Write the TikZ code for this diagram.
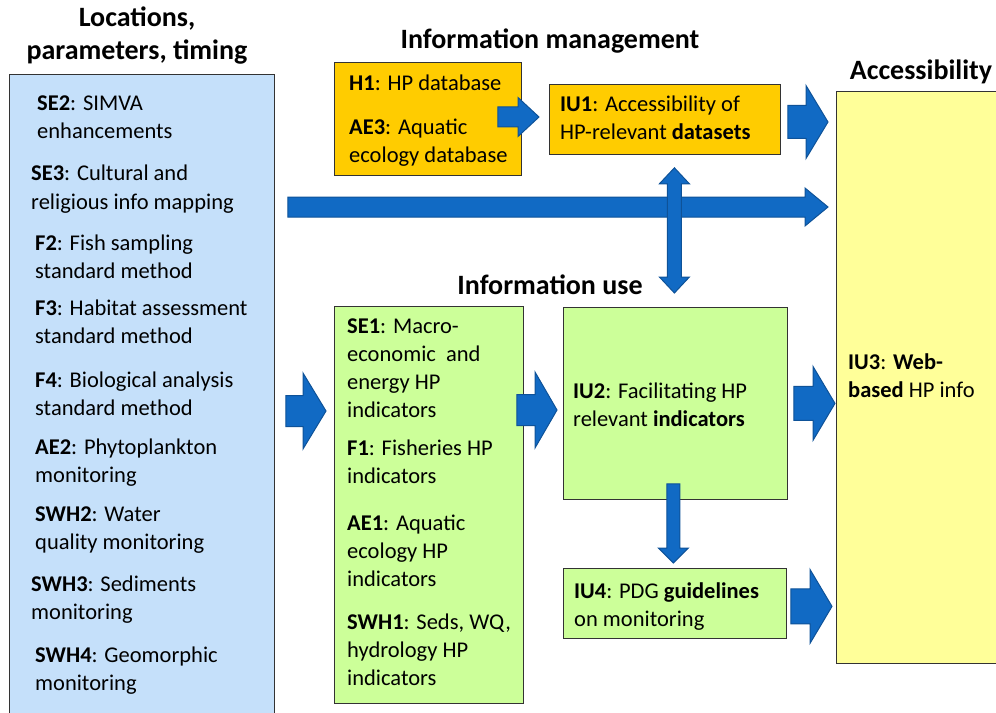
\documentclass[tikz,border=0pt]{standalone}
\usepackage{fontspec}
\setmainfont{Carlito}
\usetikzlibrary{positioning, calc}

\definecolor{locblue}{RGB}{197,224,250}
\definecolor{mgmtgold}{RGB}{255,204,0}
\definecolor{usegreen}{RGB}{204,255,153}
\definecolor{accyellow}{RGB}{255,255,153}
\definecolor{arrowfill}{RGB}{17,106,196}
\definecolor{arrowedge}{RGB}{14,82,152}

% block arrows: tail, tip, half shaft, half head, head length
\newcommand{\rightblock}[5]{%
  \filldraw[blockarrow] let \p1=(#1), \p2=(#2) in
    (\x1,\y1+#3) -- (\x2-#5,\y1+#3) -- (\x2-#5,\y1+#4) -- (\x2,\y1)
    -- (\x2-#5,\y1-#4) -- (\x2-#5,\y1-#3) -- (\x1,\y1-#3) -- cycle;}
\newcommand{\downblock}[5]{%
  \filldraw[blockarrow] let \p1=(#1), \p2=(#2) in
    (\x1-#3,\y1) -- (\x1-#3,\y2+#5) -- (\x1-#4,\y2+#5) -- (\x1,\y2)
    -- (\x1+#4,\y2+#5) -- (\x1+#3,\y2+#5) -- (\x1+#3,\y1) -- cycle;}
\newcommand{\updownblock}[5]{%
  \filldraw[blockarrow] let \p1=(#1), \p2=(#2) in
    (\x1,\y1) -- (\x1+#4,\y1-#5) -- (\x1+#3,\y1-#5) -- (\x1+#3,\y2+#5)
    -- (\x1+#4,\y2+#5) -- (\x1,\y2) -- (\x1-#4,\y2+#5) -- (\x1-#3,\y2+#5)
    -- (\x1-#3,\y1-#5) -- (\x1-#4,\y1-#5) -- cycle;}

\begin{document}
\begin{tikzpicture}[x=1bp, y=-1bp,
    box/.style={draw=black!80, line width=0.8bp, anchor=north west, inner sep=0pt},
    txt/.style={anchor=base west, inner sep=0pt, align=left,
      font=\fontsize{22.5bp}{28bp}\selectfont},
    ttl/.style={anchor=base, inner sep=0pt, align=center,
      font=\fontsize{28bp}{33bp}\selectfont\bfseries},
    blockarrow/.style={fill=arrowfill, draw=arrowedge, line width=1bp, line join=miter}]
    \useasboundingbox (0,0) rectangle (996,713);

    % Titles (base = last line)
    \node[ttl] (loctitle) at (137,60) {Locations,\\parameters, timing};
    \node[ttl] (mgmttitle) at (550,49) {Information management};
    \node[ttl] (usetitle) at (550,294) {Information use};
    \node[ttl] (acctitle) at (921,80) {Accessibility};

    % Boxes
    \node[box, fill=locblue, minimum width=265bp, minimum height=660bp] (locbox) at (9,74) {};
    \node[box, fill=mgmtgold, minimum width=187bp, minimum height=113bp] (mgmtbox) at (334,62) {};
    \node[box, fill=mgmtgold, minimum width=231bp, minimum height=70bp] (iu1box) at (549,84) {};
    \node[box, fill=accyellow, minimum width=170bp, minimum height=572bp] (iu3box) at (836,91) {};
    \node[box, fill=usegreen, minimum width=189bp, minimum height=397bp] (indbox) at (334,306) {};
    \node[box, fill=usegreen, minimum width=224bp, minimum height=192bp] (iu2box) at (563,307) {};
    \node[box, fill=usegreen, minimum width=223bp, minimum height=70bp] (iu4box) at (563,568) {};

    % Locations, parameters, timing (base = last line)
    \node[txt] (se2) at (37,139) {\textbf{SE2}: SIMVA\\enhancements};
    \node[txt] (se3) at (31,209) {\textbf{SE3}: Cultural and\\religious info mapping};
    \node[txt] (f2) at (35,278) {\textbf{F2}: Fish sampling\\standard method};
    \node[txt] (f3) at (35,343) {\textbf{F3}: Habitat assessment\\standard method};
    \node[txt] (f4) at (35,415) {\textbf{F4}: Biological analysis\\standard method};
    \node[txt] (ae2) at (35,482) {\textbf{AE2}: Phytoplankton\\monitoring};
    \node[txt] (swh2) at (35,549) {\textbf{SWH2}: Water\\quality monitoring};
    \node[txt] (swh3) at (31,619) {\textbf{SWH3}: Sediments\\monitoring};
    \node[txt] (swh4) at (35,690) {\textbf{SWH4}: Geomorphic\\monitoring};

    % Information management
    \node[txt] (h1) at (349,91) {\textbf{H1}: HP database};
    \node[txt] (ae3) at (349,163) {\textbf{AE3}: Aquatic\\ecology database};
    \node[txt] (iu1) at (560,140) {\textbf{IU1}: Accessibility of\\HP-relevant \textbf{datasets}};

    % Information use
    \node[txt] (se1) at (347,417) {\textbf{SE1}: Macro-\\economic~ and\\energy HP\\indicators};
    \node[txt] (f1) at (347,483) {\textbf{F1}: Fisheries HP\\indicators};
    \node[txt] (ae1) at (347,586) {\textbf{AE1}: Aquatic\\ecology HP\\indicators};
    \node[txt] (swh1) at (347,685) {\textbf{SWH1}: Seds, WQ,\\hydrology HP\\indicators};
    \node[txt] (iu2) at (573,426) {\textbf{IU2}: Facilitating HP\\relevant \textbf{indicators}};
    \node[txt] (iu4) at (574,626) {\textbf{IU4}: PDG \textbf{guidelines}\\on monitoring};

    % Accessibility
    \node[txt] (iu3) at (848,397) {\textbf{IU3}: \textbf{Web-}\\\textbf{based} HP info};

    % Block arrows
    \coordinate (a1s) at ($(mgmtbox.north east)+(-24,55)$);
    \coordinate (a1e) at ($(iu1box.west)+(-10,0)$);
    \rightblock{a1s}{a1e}{10bp}{19.5bp}{21bp}
    \coordinate (a2s) at ($(iu1box.north east)+(7,38)$);
    \coordinate (a2e) at ($(iu3box.west)+(-8,0)$);
    \rightblock{a2s}{a2e}{16.5bp}{36.5bp}{22bp}
    \coordinate (a3s) at ($(locbox.north east)+(13,133)$);
    \coordinate (a3e) at ($(iu3box.west)+(-8,0)$);
    \rightblock{a3s}{a3e}{10bp}{19bp}{23bp}
    \coordinate (vtop) at ($(iu2box.north |- iu1box.south)+(-1,13)$);
    \coordinate (vbot) at ($(iu2box.north)+(-1,-14)$);
    \updownblock{vtop}{vbot}{7bp}{15bp}{16bp}
    \coordinate (a5s) at ($(locbox.north east)+(11,337)$);
    \coordinate (a5e) at ($(indbox.west)+(-8,0)$);
    \rightblock{a5s}{a5e}{15.5bp}{38bp}{23bp}
    \coordinate (a6s) at ($(indbox.north east)+(-7,104)$);
    \coordinate (a6e) at ($(iu2box.west)+(-6,0)$);
    \rightblock{a6s}{a6e}{15.5bp}{38bp}{22bp}
    \coordinate (a7s) at ($(iu2box.east)+(6,0)$);
    \coordinate (a7e) at ($(iu3box.west)+(-1,0)$);
    \rightblock{a7s}{a7e}{17bp}{37bp}{22bp}
    \coordinate (a8s) at ($(iu2box.south)+(-2,-16)$);
    \coordinate (a8e) at ($(iu4box.north)+(-1.5,-5)$);
    \downblock{a8s}{a8e}{6.5bp}{15bp}{15bp}
    \coordinate (a9s) at ($(iu4box.east)+(4,3)$);
    \coordinate (a9e) at ($(iu3box.west)+(-4,0)$);
    \rightblock{a9s}{a9e}{17.5bp}{37bp}{22bp}

\end{tikzpicture}
\end{document}
